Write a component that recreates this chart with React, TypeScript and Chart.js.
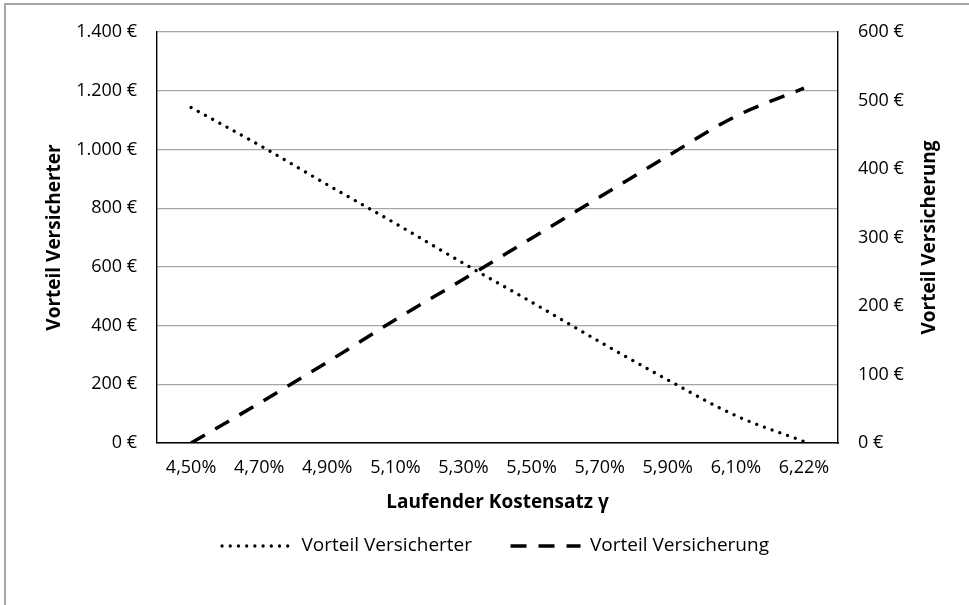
import React, { useEffect, useRef } from 'react';
import { Chart, registerables } from 'chart.js';

Chart.register(...registerables);

const categories = ['4,50%', '4,70%', '4,90%', '5,10%', '5,30%', '5,50%', '5,70%', '5,90%', '6,10%', '6,22%'];
const vorteilVersicherter = [1143, 1015, 880, 748, 612, 480, 345, 215, 93, 5];
const vorteilVersicherung = [0, 58, 118, 180, 239, 299, 359, 419, 477, 518];
const leftTickLabels = ['0 €', '200 €', '400 €', '600 €', '800 €', '1.000 €', '1.200 €', '1.400 €'];
const rightTickLabels = ['0 €', '100 €', '200 €', '300 €', '400 €', '500 €', '600 €'];
const seriesNames = ['Vorteil Versicherter', 'Vorteil Versicherung'];
const xTitle = 'Laufender Kostensatz γ';
const leftTitle = 'Vorteil Versicherter';
const rightTitle = 'Vorteil Versicherung';

const FONT = '"Open Sans", "Noto Sans", sans-serif';

const framePlugin = {
  id: 'frameAndRightTitle',
  beforeDraw(chart: any) {
    const ctx = chart.ctx;
    ctx.save();
    ctx.fillStyle = '#ffffff';
    ctx.fillRect(0, 0, chart.width, chart.height);
    ctx.strokeStyle = '#a6a6a6';
    ctx.lineWidth = 2;
    ctx.beginPath();
    ctx.moveTo(5, chart.height + 10);
    ctx.lineTo(5, 4);
    ctx.lineTo(chart.width + 10, 4);
    ctx.stroke();
    ctx.restore();
  },
  afterDraw(chart: any) {
    const s = chart.scales.y2;
    const ctx = chart.ctx;
    ctx.save();
    ctx.translate(s.right - 39, (s.top + s.bottom) / 2);
    ctx.rotate(-Math.PI / 2);
    ctx.font = `bold 19px ${FONT}`;
    ctx.fillStyle = '#000';
    ctx.textAlign = 'center';
    ctx.textBaseline = 'middle';
    ctx.fillText(rightTitle, 0, 0);
    ctx.restore();
  },
};

export default function App() {
  const canvasRef = useRef<HTMLCanvasElement | null>(null);

  useEffect(() => {
    const canvas = canvasRef.current;
    if (!canvas) return;
    const chart = new Chart(canvas, {
      type: 'line',
      data: {
        labels: categories,
        datasets: [
          {
            label: seriesNames[0],
            data: vorteilVersicherter,
            yAxisID: 'y',
            borderColor: '#000',
            backgroundColor: '#000',
            borderWidth: 3.3,
            borderDash: [0.01, 8.2],
            borderCapStyle: 'round',
            pointRadius: 0,
            cubicInterpolationMode: 'monotone',
            fill: false,
          },
          {
            label: seriesNames[1],
            data: vorteilVersicherung,
            yAxisID: 'y2',
            borderColor: '#000',
            backgroundColor: '#000',
            borderWidth: 3.5,
            borderDash: [16, 12],
            borderCapStyle: 'butt',
            pointRadius: 0,
            cubicInterpolationMode: 'monotone',
            fill: false,
          },
        ],
      },
      options: {
        responsive: false,
        animation: false,
        devicePixelRatio: 1,
        layout: { padding: { top: 32, bottom: 39.5, left: 22, right: 0 } },
        plugins: {
          legend: {
            position: 'bottom',
            labels: {
              usePointStyle: true,
              pointStyle: 'line',
              pointStyleWidth: 70,
              padding: 38.5,
              color: '#000',
              font: { family: FONT, size: 19 },
              generateLabels: (chart: any) =>
                chart.data.datasets.map((ds: any, i: number) => ({
                  text: ds.label,
                  fillStyle: ds.borderColor,
                  strokeStyle: ds.borderColor,
                  fontColor: '#000',
                  lineWidth: ds.borderWidth,
                  lineDash: ds.borderDash,
                  lineDashOffset: 0,
                  lineCap: ds.borderCapStyle,
                  lineJoin: 'miter',
                  pointStyle: 'line',
                  rotation: 0,
                  hidden: false,
                  datasetIndex: i,
                })),
            },
          },
          tooltip: { enabled: false },
        },
        scales: {
          x: {
            type: 'category',
            offset: true,
            grid: { drawOnChartArea: false, drawTicks: false },
            border: { display: true, color: '#000', width: 1.4 },
            ticks: {
              color: '#000',
              font: { family: FONT, size: 18 },
              padding: 14,
              autoSkip: false,
              maxRotation: 0,
            },
            title: {
              display: true,
              text: xTitle,
              color: '#000',
              font: { family: FONT, size: 19, weight: 'bold' },
              padding: { top: 0, bottom: -16.4 },
            },
            afterFit: (s: any) => {
              s.height = 55;
            },
          },
          y: {
            position: 'left',
            min: 0,
            max: 1400,
            ticks: {
              stepSize: 200,
              color: '#000',
              font: { family: FONT, size: 18 },
              padding: 20,
              callback: (_v: any, i: number) => leftTickLabels[i],
            },
            grid: { color: '#a6a6a6', lineWidth: 1.2, drawTicks: false },
            border: { display: true, color: '#000', width: 1.4 },
            title: {
              display: true,
              text: leftTitle,
              color: '#000',
              font: { family: FONT, size: 19, weight: 'bold' },
              padding: { top: 21, bottom: 0 },
            },
            afterFit: (s: any) => {
              s.width = 135;
            },
          },
          y2: {
            position: 'right',
            min: 0,
            max: 600,
            ticks: {
              stepSize: 100,
              color: '#000',
              font: { family: FONT, size: 18 },
              padding: 20,
              callback: (_v: any, i: number) => rightTickLabels[i],
            },
            grid: { drawOnChartArea: false, drawTicks: false },
            border: { display: true, color: '#000', width: 1.4 },
            title: { display: false },
            afterFit: (s: any) => {
              s.width = 131;
            },
          },
        },
      },
      plugins: [framePlugin],
    } as any);
    return () => chart.destroy();
  }, []);

  return (
    <div style={{ position: 'fixed', left: 0, top: 0, width: 969, height: 605, background: '#fff', overflow: 'hidden' }}>
      <canvas ref={canvasRef} width={969} height={605} style={{ display: 'block', width: 969, height: 605 }} />
    </div>
  );
}
